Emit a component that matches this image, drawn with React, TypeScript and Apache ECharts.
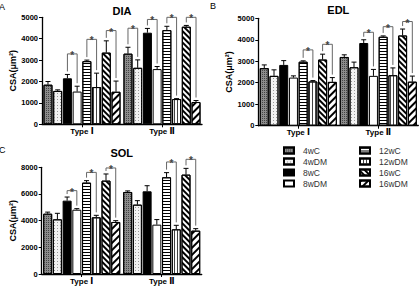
import React, { useEffect, useRef } from "react";
import * as echarts from "echarts";

const types = ["Type Ⅰ", "Type Ⅱ"];
const groups = ["4wC", "4wDM", "8wC", "8wDM", "12wC", "12wDM", "16wC", "16wDM"];

// DIA
const diaTypeI = [1850, 1560, 2150, 1530, 2950, 1740, 3350, 1520];
const diaTypeII = [3300, 2640, 4280, 2580, 4400, 1180, 4560, 1040];
const diaErrI = [150, 50, 180, 250, 50, 650, 550, 500];
const diaErrII = [300, 370, 200, 120, 180, 20, 60, 70];
const diaStars = [[0, 2, 3290], [0, 4, 3970], [0, 6, 4380], [1, 0, 4490], [1, 2, 4900], [1, 4, 5000], [1, 6, 5000]];

// EDL
const edlTypeI = [2680, 2320, 2830, 2240, 2980, 2060, 3080, 2040];
const edlTypeII = [3200, 2720, 3850, 2320, 4140, 2350, 4200, 2050];
const edlErrI = [150, 280, 200, 80, 40, 40, 250, 200];
const edlErrII = [100, 240, 150, 300, 40, 340, 300, 260];
const edlStars = [[0, 4, 3530], [0, 6, 3790], [1, 2, 4350], [1, 4, 4610], [1, 6, 4850]];

// SOL
const solTypeI = [4520, 4100, 5500, 4820, 6850, 4250, 7000, 3900];
const solTypeII = [6150, 5200, 6200, 3700, 7250, 3350, 7450, 3250];
const solErrI = [120, 450, 270, 80, 150, 150, 500, 100];
const solErrII = [80, 300, 420, 380, 350, 300, 470, 150];
const solStars = [[0, 2, 6250], [0, 4, 7620], [0, 6, 7950], [1, 4, 8400], [1, 6, 8600]];

const panelTitles = ["DIA", "EDL", "SOL"];
const panelLetters = ["A", "B", "C"];
const yMax = [5000, 5000, 8000];
const yInterval = [1000, 1000, 2000];

const BW = 9;
const GAP = 0.08;
function barOffset(i: number) {
  const step = BW * (1 + GAP);
  const total = 8 * BW + 7 * BW * GAP;
  return -total / 2 + i * step + BW / 2;
}

const FONT = "'Liberation Sans', 'DejaVu Sans', sans-serif";

const barStyles: any[] = [
  { color: "#8c8c8c", borderColor: "#000", borderWidth: 1, decal: { symbol: "rect", symbolSize: 1, dashArrayX: [1, 1], dashArrayY: [1, 1], color: "#444" } },
  { color: "#f2f2f2", borderColor: "#000", borderWidth: 1, decal: { symbol: "rect", symbolSize: 1, dashArrayX: [1, 2], dashArrayY: [1, 2], color: "#9a9a9a" } },
  { color: "#000", borderColor: "#000", borderWidth: 1 },
  { color: "#fff", borderColor: "#000", borderWidth: 1 },
  { color: "#fff", borderColor: "#000", borderWidth: 1, decal: { symbol: "rect", symbolSize: 1, dashArrayX: [1, 0], dashArrayY: [1, 2], color: "#000" } },
  { color: "#fff", borderColor: "#000", borderWidth: 1, decal: { symbol: "rect", symbolSize: 1, dashArrayX: [1, 2], dashArrayY: [1, 0], color: "#444" } },
  { color: "#fff", borderColor: "#000", borderWidth: 1, decal: { symbol: "rect", symbolSize: 1, dashArrayX: [1, 0], dashArrayY: [2, 2], rotation: Math.PI / 4, color: "#000" } },
  { color: "#fff", borderColor: "#000", borderWidth: 1, decal: { symbol: "rect", symbolSize: 1, dashArrayX: [1, 0], dashArrayY: [1.5, 2.5], rotation: -Math.PI / 4, color: "#000" } },
];

const panels = [
  { I: diaTypeI, II: diaTypeII, eI: diaErrI, eII: diaErrII, stars: diaStars },
  { I: edlTypeI, II: edlTypeII, eI: edlErrI, eII: edlErrII, stars: edlStars },
  { I: solTypeI, II: solTypeII, eI: solErrI, eII: solErrII, stars: solStars },
];

const grids = [
  { left: 42, top: 17.3, width: 160, height: 107 },
  { left: 258.3, top: 18.3, width: 160, height: 107.4 },
  { left: 41.7, top: 167.3, width: 160, height: 106.7 },
];
const titleTops = [5, 4, 147];

export default function App() {
  const ref = useRef<HTMLDivElement>(null);
  useEffect(() => {
    if (!ref.current) return;
    const chart = echarts.init(ref.current, undefined, { renderer: "svg" });
    const series: any[] = [];
    panels.forEach((p, pi) => {
      groups.forEach((g, gi) => {
        series.push({
          type: "bar",
          name: g,
          xAxisIndex: pi,
          yAxisIndex: pi,
          barWidth: BW,
          barGap: GAP * 100 + "%",
          data: [p.I[gi], p.II[gi]],
          itemStyle: barStyles[gi],
          emphasis: { disabled: true },
        });
      });
      const errData: any[] = [];
      groups.forEach((g, gi) => {
        errData.push([0, gi, p.I[gi], p.eI[gi]]);
        errData.push([1, gi, p.II[gi], p.eII[gi]]);
      });
      series.push({
        type: "custom",
        xAxisIndex: pi,
        yAxisIndex: pi,
        clip: false,
        silent: true,
        z: 5,
        data: errData,
        renderItem: (params: any, api: any) => {
          const t = api.value(0), i = api.value(1), m = api.value(2), e = api.value(3);
          const base = api.coord([t, m]);
          const top = api.coord([t, m + e]);
          const x = base[0] + barOffset(i);
          return {
            type: "group",
            children: [
              { type: "line", shape: { x1: x, y1: base[1], x2: x, y2: top[1] }, style: { stroke: "#000", lineWidth: 1 } },
              { type: "line", shape: { x1: x - 2.5, y1: top[1], x2: x + 2.5, y2: top[1] }, style: { stroke: "#000", lineWidth: 1 } },
            ],
          };
        },
      });
      const starData = p.stars.map((s) => {
        const vals = s[0] === 0 ? p.I : p.II;
        const errs = s[0] === 0 ? p.eI : p.eII;
        return [s[0], s[1], s[2], vals[s[1]] + errs[s[1]], vals[s[1] + 1] + errs[s[1] + 1]];
      });
      series.push({
        type: "custom",
        xAxisIndex: pi,
        yAxisIndex: pi,
        clip: false,
        silent: true,
        z: 6,
        data: starData,
        renderItem: (params: any, api: any) => {
          const t = api.value(0), i = api.value(1), h = api.value(2), lt = api.value(3), rt = api.value(4);
          const c = api.coord([t, h]);
          const x1 = c[0] + barOffset(i);
          const x2 = c[0] + barOffset(i + 1);
          const yl = api.coord([t, lt])[1] - 3;
          const yr = api.coord([t, rt])[1] - 3;
          const y = c[1];
          return {
            type: "group",
            children: [
              { type: "polyline", shape: { points: [[x1, yl], [x1, y], [x2, y], [x2, yr]] }, style: { stroke: "#666", lineWidth: 1, fill: "none" } },
              { type: "text", style: { text: "*", x: (x1 + x2) / 2, y: y + 1.5, align: "center", verticalAlign: "middle", fontSize: 10, fontFamily: FONT, fontWeight: "bold", fill: "#444" } },
            ],
          };
        },
      });
    });

    const axisLabel = { fontFamily: FONT, fontWeight: "bold", fontSize: 7.5, color: "#000" };
    const legendCommon = {
      orient: "vertical",
      top: 146,
      padding: 0,
      itemWidth: 10,
      itemHeight: 6,
      itemGap: 2,
      icon: "rect",
      textStyle: { fontFamily: FONT, fontSize: 8.5, color: "#333", padding: [0, 0, 0, 4] },
      selectedMode: false,
    };
    const option: any = {
      animation: false,
      backgroundColor: "#fff",
      title: panelTitles.map((t, i) => ({
        text: t,
        left: grids[i].left + grids[i].width / 2,
        top: titleTops[i],
        textAlign: "center",
        textStyle: { fontFamily: FONT, fontWeight: "bold", fontSize: 11, color: "#000" },
        padding: 0,
      })),
      grid: grids.map((g) => ({ ...g })),
      xAxis: grids.map((g, i) => ({
        type: "category",
        gridIndex: i,
        data: types,
        axisLine: { lineStyle: { color: "#000", width: 1.3 } },
        axisTick: { show: true, alignWithLabel: true, length: 3, lineStyle: { color: "#000" } },
        axisLabel: { ...axisLabel, fontSize: 8, margin: 3 },
      })),
      yAxis: grids.map((g, i) => ({
        type: "value",
        gridIndex: i,
        min: 0,
        max: yMax[i],
        interval: yInterval[i],
        name: "CSA(μm²)",
        nameLocation: "middle",
        nameGap: 24,
        nameTextStyle: { fontFamily: FONT, fontWeight: "bold", fontSize: 9, color: "#000" },
        splitLine: { show: false },
        axisLine: { show: true, lineStyle: { color: "#000", width: 1.3 } },
        axisTick: { show: true, length: 3, lineStyle: { color: "#000" } },
        axisLabel: { ...axisLabel, margin: 4, formatter: (v: number) => String(v) },
      })),
      legend: [
        { ...legendCommon, data: groups.slice(0, 4), left: 283 },
        { ...legendCommon, data: groups.slice(4), left: 359 },
      ],
      graphic: panelLetters.map((l, i) => ({
        type: "text",
        left: [-1, 210, -1][i],
        top: [2, 1, 145][i],
        style: { text: l, fontFamily: FONT, fontSize: 9, fill: "#000" },
      })),
      series,
    };
    chart.setOption(option);
    return () => chart.dispose();
  }, []);
  return <div ref={ref} style={{ width: 419, height: 287, position: "absolute", left: 0, top: 0 }} />;
}
